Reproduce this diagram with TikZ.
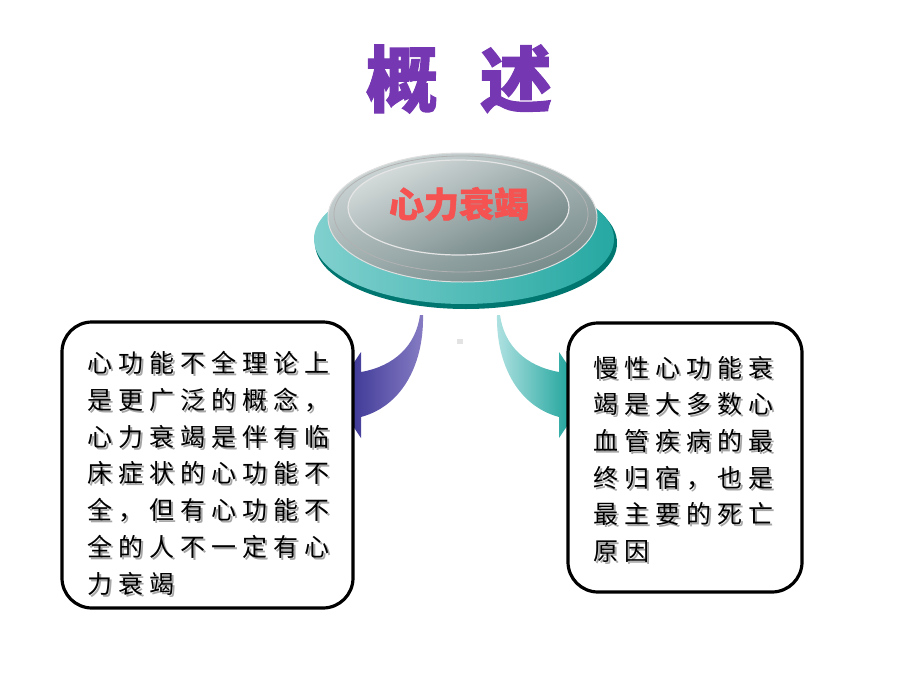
\documentclass[tikz,border=0pt]{standalone}
\usepackage{fontspec}
\usepackage{tikz}
\newfontfamily\cjk{Noto Sans CJK SC}
\newfontfamily\cjkspaced[LetterSpace=24]{Noto Sans CJK SC}
\newfontfamily\cjkheavy[FakeBold=1.5]{Noto Sans CJK SC}

\definecolor{titlepurple}{RGB}{118,56,178}
\definecolor{labelred}{RGB}{245,82,82}
\definecolor{tealdark}{RGB}{0,118,112}
\definecolor{teallight}{RGB}{128,208,206}
\definecolor{tealmid}{RGB}{38,168,162}
\definecolor{ringlight}{RGB}{206,214,214}
\definecolor{ringdark}{RGB}{118,138,138}
\definecolor{facelight}{RGB}{214,220,220}
\definecolor{facedark}{RGB}{112,132,132}
\definecolor{navyarrow}{RGB}{45,40,140}
\definecolor{lilacarrow}{RGB}{135,125,196}
\definecolor{mintarrow}{RGB}{176,226,226}
\definecolor{tealarrow}{RGB}{0,150,140}

\begin{document}
\begin{tikzpicture}[x=1pt,y=-1pt,
    infobox/.style={draw=black, line width=3.2pt, rounded corners=30pt, fill=white},
    bodytext/.style={anchor=base west, align=left, inner sep=0pt,
      font=\cjkspaced\fontsize{25}{36.7}\selectfont},
    shadowtext/.style={bodytext, text=black!35}]
    \useasboundingbox (0,0) rectangle (920,690);
    % Title
    \node (title) at (459,79) [text=titlepurple, font=\cjkheavy\bfseries\fontsize{72}{72}\selectfont] {概\hspace{42pt}述};
    % Disc
    \fill[tealdark] (466,243) ellipse [x radius=151, y radius=66];
    \shade[left color=teallight, right color=tealmid] (464,239) ellipse [x radius=150, y radius=65];
    \shade[top color=ringlight, bottom color=ringdark, shading angle=20, draw=white!75!gray, line width=1pt] (462.5,217.5) ellipse [x radius=134.5, y radius=64.5];
    \draw[gray!60, line width=0.8pt] (461,214) ellipse [x radius=127, y radius=58];
    \shade[top color=facelight, bottom color=facedark, shading angle=25, draw=white!80!gray, line width=1.2pt] (458.5,207.5) ellipse [x radius=110.5, y radius=47.5];
    \node (disc) at (459,204) [text=labelred, font=\cjkheavy\bfseries\fontsize{35}{35}\selectfont] {心力衰竭};
    % Arrows
    \shade[left color=navyarrow, right color=lilacarrow] (420,315) .. controls (416,345) and (395,366) .. (361,372) -- (361,352) -- (332,395) -- (361,438) -- (361,417) .. controls (405,405) and (424,360) .. (423,315) -- cycle;
    \shade[left color=mintarrow, right color=tealarrow] (500,315) .. controls (504,345) and (525,366) .. (559,372) -- (559,352) -- (588,395) -- (559,438) -- (559,417) .. controls (515,405) and (496,360) .. (497,315) -- cycle;
    \fill[gray!22] (457,339) rectangle (463,344);
    % Boxes
    \node (leftbox) at (207.5,465) [infobox, minimum width=291pt, minimum height=286pt] {};
    \node (rightbox) at (685,457.5) [infobox, minimum width=234pt, minimum height=269pt] {};
    % Texts (base = last line)
    \node (leftshadow) at (89,595) [shadowtext] {心功能不全理论上\\是更广泛的概念，\\心力衰竭是伴有临\\床症状的心功能不\\全，但有心功能不\\全的人不一定有心\\力衰竭};
    \node (lefttext) at (87,593) [bodytext] {心功能不全理论上\\是更广泛的概念，\\心力衰竭是伴有临\\床症状的心功能不\\全，但有心功能不\\全的人不一定有心\\力衰竭};
    \node (rightshadow) at (595,562.5) [shadowtext] {慢性心功能衰\\竭是大多数心\\血管疾病的最\\终归宿，也是\\最主要的死亡\\原因};
    \node (righttext) at (593,560.5) [bodytext] {慢性心功能衰\\竭是大多数心\\血管疾病的最\\终归宿，也是\\最主要的死亡\\原因};
\end{tikzpicture}
\end{document}
